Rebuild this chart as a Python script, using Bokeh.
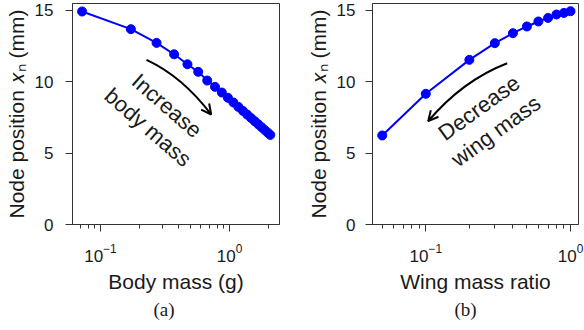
import math
from bokeh.plotting import figure
from bokeh.layouts import row
from bokeh.models import FixedTicker, Label, Arrow, OpenHead, Range1d, Title
from bokeh.embed import file_html
from bokeh.resources import INLINE

# ---------------- data ----------------
body_mass = [0.072, 0.172, 0.272, 0.372, 0.472, 0.572, 0.672, 0.772, 0.872, 0.972,
             1.072, 1.172, 1.272, 1.372, 1.472, 1.572, 1.672, 1.772, 1.872, 1.972, 2.072]
node_pos_a = [14.93, 13.69, 12.73, 11.93, 11.23, 10.70, 10.09, 9.65, 9.25, 8.88,
              8.55, 8.24, 7.96, 7.70, 7.46, 7.23, 7.02, 6.82, 6.63, 6.45, 6.28]
wing_ratio = [0.05, 0.1, 0.2, 0.3, 0.4, 0.5, 0.6, 0.7, 0.8, 0.9, 1.0]
node_pos_b = [6.24, 9.16, 11.54, 12.71, 13.41, 13.88, 14.23, 14.48, 14.72, 14.83, 14.95]

y_ticks = [0, 5, 10, 15]
x_major = [0.1, 1]
a_minor = [0.07, 0.08, 0.09, 0.2, 0.3, 0.4, 0.5, 0.6, 0.7, 0.8, 0.9, 2]
b_minor = [0.05, 0.06, 0.07, 0.08, 0.09, 0.2, 0.3, 0.4, 0.5, 0.6, 0.7, 0.8, 0.9]

y_label = "Node position \U0001D465\u2099 (mm)"
x_label_a = "Body mass (g)"
x_label_b = "Wing mass ratio"
note_a = "Increase\nbody mass"
note_b = "Decrease\nwing mass"
cap_a = "(a)"
cap_b = "(b)"

FONT = "Liberation Sans"
SERIF = "Liberation Serif"
TXT = "#1a1a1a"
AX = "#333333"
BLUE = "#0000ff"

W, H = 292, 330
TOP, BOTTOM = 3, 106
YMAX = 15.49


def make_panel(lxmin, lxmax, minor, bl, br, xlabel, ylab_standoff, tick_standoff, cap, cap_off):
    p = figure(width=W, height=H, x_axis_type="log",
               x_range=Range1d(10 ** lxmin, 10 ** lxmax), y_range=Range1d(0, YMAX),
               output_backend="svg", toolbar_location=None,
               min_border_left=bl, min_border_right=br,
               min_border_top=TOP, min_border_bottom=BOTTOM)
    p.xgrid.visible = False
    p.ygrid.visible = False
    p.background_fill_color = "white"
    p.border_fill_color = "white"
    p.outline_line_color = AX
    p.outline_line_width = 1
    p.outline_line_alpha = 1

    xa = p.xaxis[0]
    xa.ticker = FixedTicker(ticks=x_major, minor_ticks=minor)
    ya = p.yaxis[0]
    ya.ticker = FixedTicker(ticks=y_ticks)
    for ax in (xa, ya):
        ax.axis_line_color = AX
        ax.major_tick_line_color = AX
        ax.minor_tick_line_color = AX
        ax.major_tick_in = 0
        ax.major_tick_out = 7
        ax.minor_tick_in = 0
        ax.minor_tick_out = 4
        ax.major_label_text_font = FONT
        ax.major_label_text_font_size = "17px"
        ax.major_label_text_color = TXT
        ax.axis_label_text_font = FONT
        ax.axis_label_text_font_size = "21px"
        ax.axis_label_text_font_style = "normal"
        ax.axis_label_text_color = TXT
    ya.minor_tick_line_color = None
    ya.major_label_standoff = tick_standoff
    ya.axis_label = y_label
    ya.axis_label_standoff = ylab_standoff
    xa.major_label_standoff = 12
    xa.axis_label = xlabel
    xa.axis_label_standoff = 5

    p.add_layout(Title(text=cap, align="left", offset=cap_off, standoff=2,
                       text_font=SERIF, text_font_size="19px", text_font_style="normal",
                       text_color=TXT), "below")
    return p


# panel geometry (figure-relative frame)
A = dict(fl=72, fw=207, lxmin=-1.2171, lxmax=0.3876, off=0)
B = dict(fl=80, fw=206, lxmin=-1.3683, lxmax=0.0553, off=W)
FH = H - TOP - BOTTOM


def to_data(g, px, py):
    lx = g["lxmin"] + (px - g["off"] - g["fl"]) / g["fw"] * (g["lxmax"] - g["lxmin"])
    y = YMAX - (py - TOP) / FH * YMAX
    return 10 ** lx, y


pa = make_panel(A["lxmin"], A["lxmax"], a_minor, 72, W - 72 - 207, x_label_a, 4, 12, cap_a, 81)
pb = make_panel(B["lxmin"], B["lxmax"], b_minor, 80, W - 80 - 206, x_label_b, 4, 10, cap_b, 82)

for p, xs, ys in ((pa, body_mass, node_pos_a), (pb, wing_ratio, node_pos_b)):
    p.line(xs, ys, line_color=BLUE, line_width=2)
    p.scatter(xs, ys, size=9, fill_color=BLUE, line_color=BLUE)


def curved_arrow(p, g, P0, C, P2):
    x0, y0 = to_data(g, *P0)
    cx, cy = to_data(g, *C)
    x1, y1 = to_data(g, *P2)
    p.quadratic(x0=[x0], y0=[y0], cx=[cx], cy=[cy], x1=[x1], y1=[y1],
                line_color="black", line_width=2)
    dx, dy = P2[0] - C[0], P2[1] - C[1]
    n = math.hypot(dx, dy)
    S = (P2[0] - 5 * dx / n, P2[1] - 5 * dy / n)
    sx, sy = to_data(g, *S)
    p.add_layout(Arrow(end=OpenHead(size=10, line_width=2, line_color="black"),
                       x_start=sx, y_start=sy, x_end=x1, y_end=y1,
                       line_width=2, line_color="black"))


curved_arrow(pa, A, (146, 59.3), (182, 76), (210.7, 114))
curved_arrow(pb, B, (506.7, 62.7), (462, 80), (427.7, 120.7))


def note(p, g, px, py, text, deg):
    x, y = to_data(g, px, py)
    p.add_layout(Label(x=x, y=y, text=text, angle=math.radians(deg),
                       text_align="center", text_baseline="middle",
                       text_font=FONT, text_font_size="22px", text_color=TXT,
                       text_line_height=1.15))


note(pa, A, 157, 116, note_a, -41)
note(pb, B, 487, 119, note_b, 36)

layout = row(pa, pb, spacing=0)
open("out.html", "w").write(file_html(layout, INLINE))
